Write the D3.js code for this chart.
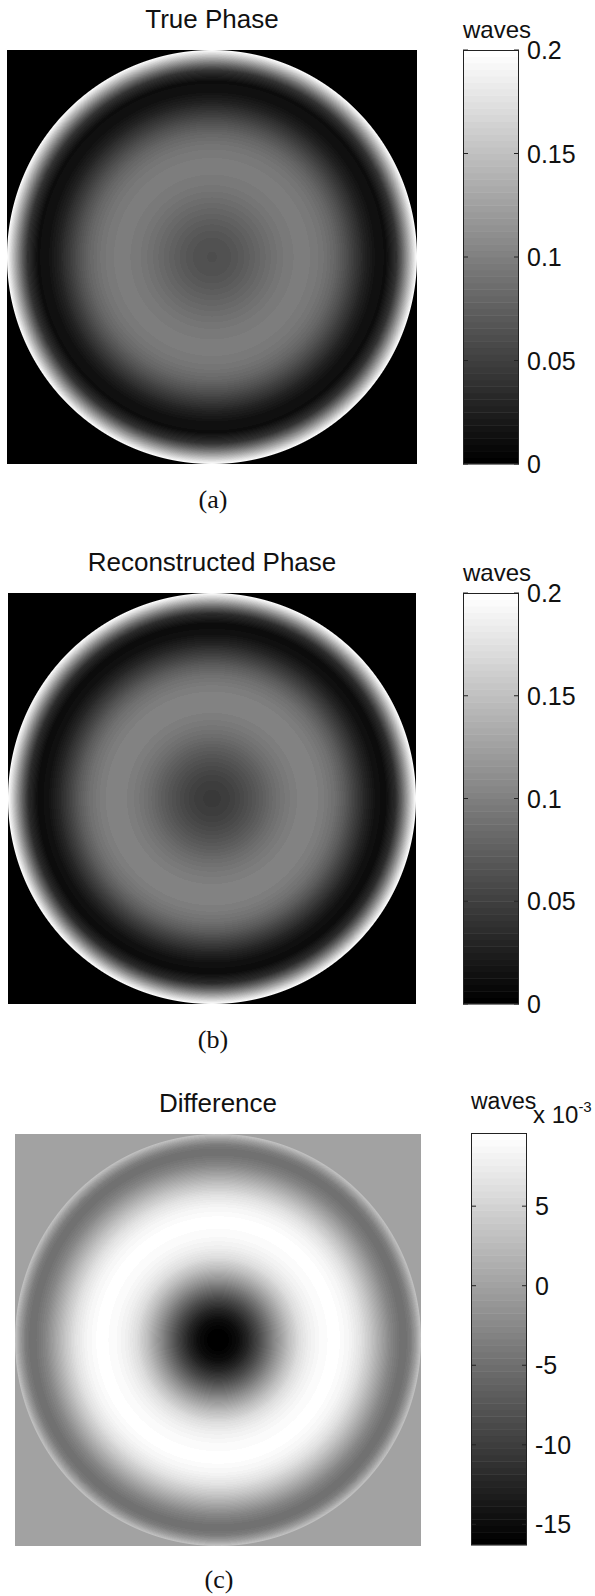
<!DOCTYPE html>
<html>
<head>
<meta charset="utf-8">
<script src="https://cdn.jsdelivr.net/npm/d3@7"></script>
<style>
    body { margin: 0; background: #fff; }
    svg { display: block; font-family: "Liberation Sans", Arial, sans-serif; }
</style>
</head>
<body>
<svg id="chart"></svg>
<script>
/** Radial samples, as a fraction of the pupil radius */
const radius      = [0, 0.05, 0.10, 0.15, 0.20, 0.25, 0.30, 0.35, 0.40, 0.45, 0.50, 0.55, 0.60, 0.65, 0.70, 0.75, 0.80, 0.85, 0.90, 0.925, 0.95, 0.975, 1.0];

/** Phase profiles (waves) */
const truePhase   = [0.062, 0.063, 0.066, 0.071, 0.077, 0.083, 0.089, 0.094, 0.097, 0.098, 0.096, 0.090, 0.080, 0.064, 0.045, 0.027, 0.014, 0.012, 0.040, 0.075, 0.115, 0.158, 0.200];
const reconPhase  = [0.046, 0.047, 0.051, 0.058, 0.066, 0.075, 0.085, 0.093, 0.099, 0.102, 0.102, 0.097, 0.088, 0.072, 0.051, 0.031, 0.015, 0.010, 0.036, 0.071, 0.112, 0.158, 0.200];
/** Difference profile (x 10^-3 waves) */
const diffPhase   = [-16.3, -16.0, -14.8, -12.2, -8.8, -4.8, -0.8, 3.0, 6.0, 7.8, 8.8, 9.3, 9.2, 8.3, 6.5, 3.8, 0.5, -2.8, -4.8, -4.8, -3.5, -0.5, 3.5];

/** Colour bar ranges and ticks */
const phaseRange      = [0, 0.2];
const diffRange       = [-16.3, 9.6];
const phaseTicks      = [0, 0.05, 0.1, 0.15, 0.2];
const phaseTickLabels = ['0', '0.05', '0.1', '0.15', '0.2'];
const diffTicks       = [-15, -10, -5, 0, 5];
const diffTickLabels  = ['-15', '-10', '-5', '0', '5'];

const titles   = ['True Phase', 'Reconstructed Phase', 'Difference'];
const captions = ['(a)', '(b)', '(c)'];

const width = 595;
const height = 1596;
const levels = 64; // matlab gray(64)

let svg = d3.select('#chart').attr('width', width).attr('height', height);

/** Panel layout */
const panels = [
    { profile: truePhase,  domain: phaseRange, ticks: phaseTicks, labels: phaseTickLabels, outside: 0,
      left: 7,  top: 50,   w: 410, h: 414, cbX: 463, cbTop: 50,   cbH: 414, exponent: false, capGap: 44 },
    { profile: reconPhase, domain: phaseRange, ticks: phaseTicks, labels: phaseTickLabels, outside: 0,
      left: 8,  top: 593,  w: 408, h: 411, cbX: 463, cbTop: 593,  cbH: 411, exponent: false, capGap: 44 },
    { profile: diffPhase,  domain: diffRange,  ticks: diffTicks,  labels: diffTickLabels,  outside: 0,
      left: 15, top: 1134, w: 406, h: 412, cbX: 471, cbTop: 1133, cbH: 412, exponent: true,  capGap: 42 }
];

const cbW = 56;

/** Draw the phase map into a canvas, then put it in the svg */
const drawMap = (p, gray) => {
    const profile = d3.scaleLinear().domain(radius).range(p.profile).clamp(true);
    const canvas = document.createElement('canvas');
    canvas.width = p.w;
    canvas.height = p.h;
    const ctx = canvas.getContext('2d');
    const img = ctx.createImageData(p.w, p.h);
    const rx = p.w / 2, ry = p.h / 2;
    const outGray = gray(p.outside);

    for (let j = 0; j < p.h; j++) {
        for (let i = 0; i < p.w; i++) {
            const nx = (i + 0.5 - rx) / rx;
            const ny = (j + 0.5 - ry) / ry;
            const r = Math.sqrt(nx * nx + ny * ny);
            // antialias the pupil edge
            const a = Math.max(0, Math.min(1, (1 - r) * rx + 0.5));
            const inGray = gray(profile(Math.min(r, 1)));
            const g = Math.round(a * inGray + (1 - a) * outGray);
            const k = (j * p.w + i) * 4;
            img.data[k] = g;
            img.data[k + 1] = g;
            img.data[k + 2] = g;
            img.data[k + 3] = 255;
        }
    }
    ctx.putImageData(img, 0, 0);

    svg.append('image')
        .attr('x', p.left)
        .attr('y', p.top)
        .attr('width', p.w)
        .attr('height', p.h)
        .attr('href', canvas.toDataURL());
};

/** Colour bar with ticks on both sides */
const drawColorbar = (p, gray) => {
    const y = d3.scaleLinear().domain(p.domain).range([p.cbTop + p.cbH, p.cbTop]);
    const g = svg.append('g');

    g.selectAll('rect.band')
        .data(gray.range())
        .enter()
        .append('rect')
        .attr('class', 'band')
        .attr('x', p.cbX)
        .attr('width', cbW)
        .attr('y', d => y(gray.invertExtent(d)[1]))
        .attr('height', d => y(gray.invertExtent(d)[0]) - y(gray.invertExtent(d)[1]) + 0.5)
        .attr('fill', d => `rgb(${d},${d},${d})`);

    g.append('rect')
        .attr('x', p.cbX + 0.5)
        .attr('y', p.cbTop + 0.5)
        .attr('width', cbW - 1)
        .attr('height', p.cbH - 1)
        .attr('fill', 'none')
        .attr('stroke', '#222')
        .attr('stroke-width', 1);

    const ticks = g.selectAll('g.tick')
        .data(p.ticks)
        .enter()
        .append('g')
        .attr('class', 'tick')
        .attr('transform', d => `translate(0, ${y(d)})`);

    ticks.append('line')
        .attr('x1', p.cbX).attr('x2', p.cbX + 5)
        .attr('stroke', '#222');
    ticks.append('line')
        .attr('x1', p.cbX + cbW - 5).attr('x2', p.cbX + cbW)
        .attr('stroke', '#222');
    ticks.append('text')
        .attr('x', p.cbX + cbW + 8)
        .attr('dy', '0.36em')
        .attr('font-size', 25)
        .attr('fill', '#111')
        .text((d, i) => p.labels[i]);

    // unit label
    g.append('text')
        .attr('x', p.cbX)
        .attr('y', p.exponent ? p.cbTop - 24 : p.cbTop - 12)
        .attr('font-size', p.exponent ? 23 : 24)
        .attr('fill', '#111')
        .text('waves');

    if (p.exponent) {
        const ex = g.append('text')
            .attr('x', p.cbX + cbW + 6)
            .attr('y', p.cbTop - 10)
            .attr('font-size', 24)
            .attr('fill', '#111');
        ex.append('tspan').text('x 10');
        ex.append('tspan')
            .attr('dy', -11)
            .attr('font-size', 15)
            .text('-3');
    }
};

panels.forEach((p, idx) => {
    const gray = d3.scaleQuantize()
        .domain(p.domain)
        .range(d3.range(levels).map(i => Math.round(i / (levels - 1) * 255)));

    drawMap(p, gray);
    drawColorbar(p, gray);

    svg.append('text')
        .attr('x', p.left + p.w / 2)
        .attr('y', p.top - 22)
        .attr('text-anchor', 'middle')
        .attr('font-size', 26)
        .attr('fill', '#111')
        .text(titles[idx]);

    svg.append('text')
        .attr('x', p.left + p.w / 2 + 1)
        .attr('y', p.top + p.h + p.capGap)
        .attr('text-anchor', 'middle')
        .attr('font-family', '"Liberation Serif", "Times New Roman", serif')
        .attr('font-size', 26)
        .attr('fill', '#111')
        .text(captions[idx]);
});
</script>
</body>
</html>
